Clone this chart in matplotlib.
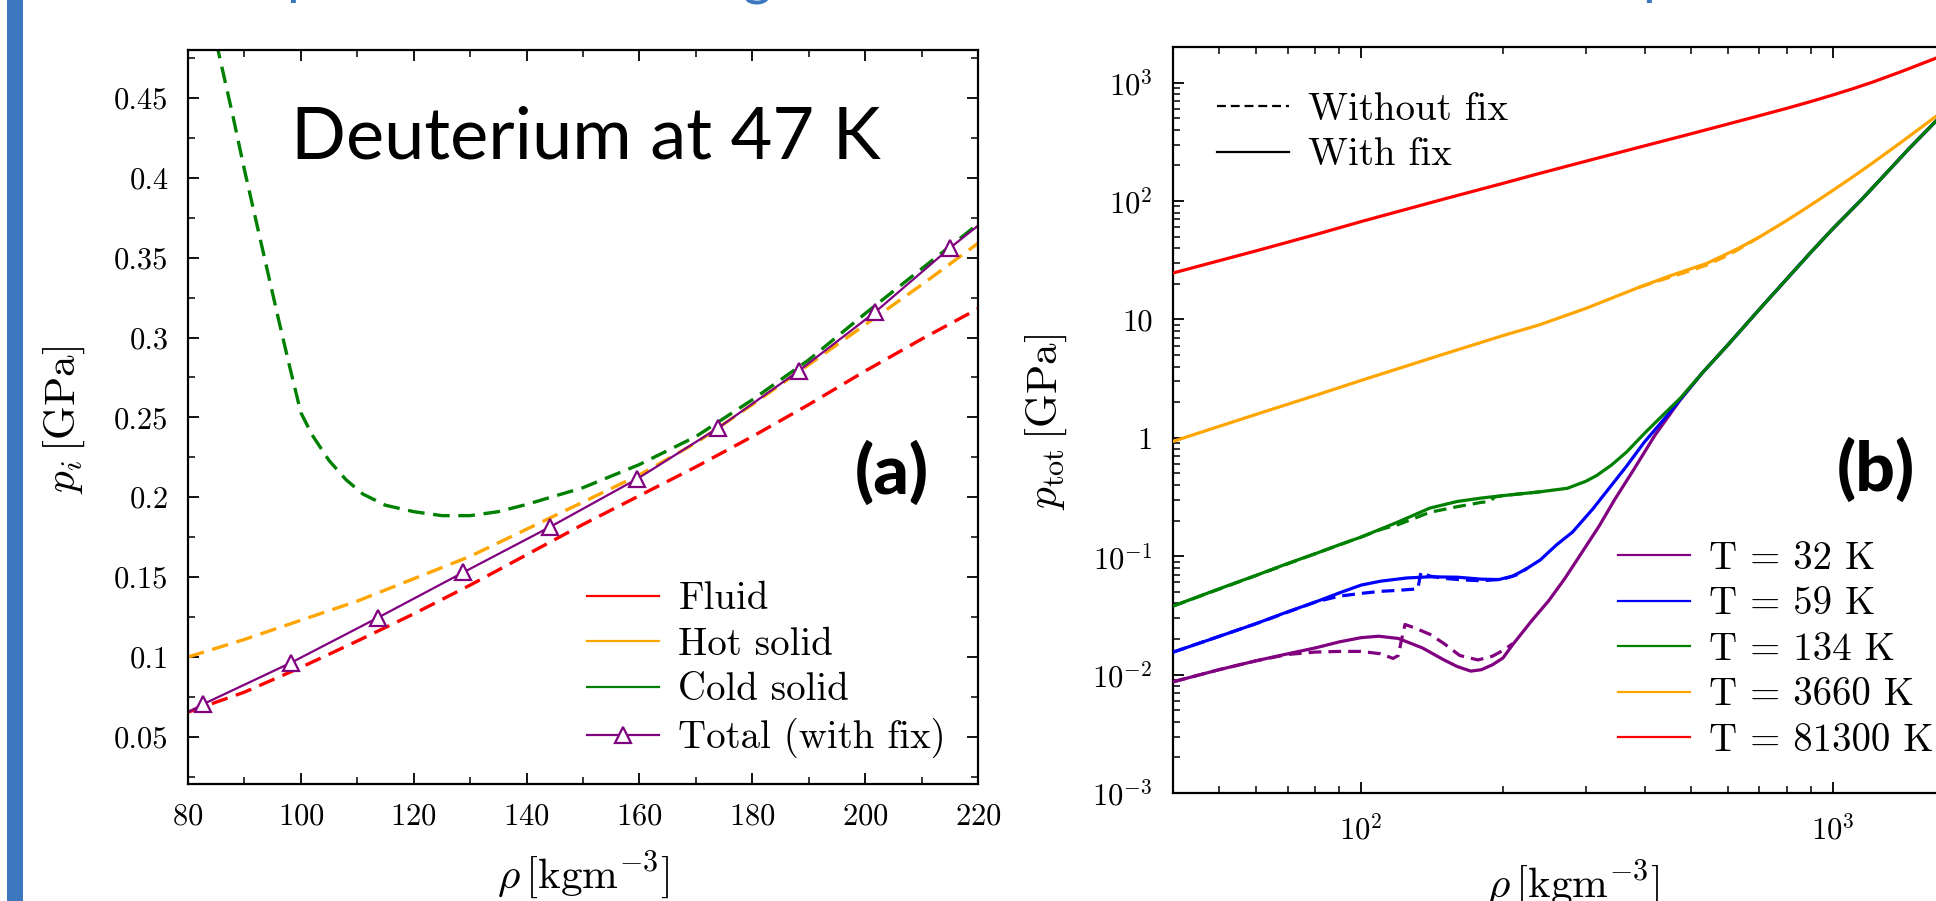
import numpy as np
import matplotlib
matplotlib.use("Agg")
import matplotlib.pyplot as plt
from matplotlib.ticker import MultipleLocator, FuncFormatter, LogLocator, NullFormatter
from matplotlib.lines import Line2D
from matplotlib.patches import Rectangle

# ---------------- Panel (a) data : Deuterium at 47 K ----------------
fluid_rho = [80, 90, 100, 110, 120, 130, 140, 150, 160, 170, 180, 190, 200, 210, 220]
fluid_p = [0.0655, 0.078, 0.0935, 0.110, 0.127, 0.145, 0.164, 0.183, 0.201, 0.219,
           0.238, 0.258, 0.279, 0.299, 0.318]

hot_rho = [80, 90, 100, 110, 120, 130, 140, 150, 160, 170, 180, 190, 200, 210, 220]
hot_p = [0.100, 0.111, 0.123, 0.135, 0.149, 0.163, 0.180, 0.197, 0.214, 0.234,
         0.258, 0.283, 0.308, 0.333, 0.359]

cold_rho = [85, 88, 90, 92, 94, 96, 98, 100, 102, 105, 108, 111, 115, 120, 125, 130,
            135, 140, 150, 160, 170, 180, 190, 200, 210, 220]
cold_p = [0.485, 0.438, 0.405, 0.374, 0.343, 0.312, 0.282, 0.253, 0.239, 0.223, 0.211,
          0.202, 0.195, 0.191, 0.1885, 0.1885, 0.191, 0.1955, 0.206, 0.2205, 0.238,
          0.261, 0.286, 0.315, 0.343, 0.371]

total_rho = [80, 82.7, 98.3, 113.7, 128.8, 144.2, 159.6, 174.0, 188.2, 201.8, 215.0, 220]
total_p = [0.0655, 0.0705, 0.0965, 0.1247, 0.1530, 0.1815, 0.2115, 0.2435, 0.2790,
           0.3160, 0.3560, 0.3700]

legend_a = ["Fluid", "Hot solid", "Cold solid", "Total (with fix)"]

# ---------------- Panel (b) data : total pressure ----------------
# common high-density branch shared by the three coldest isotherms
common_rho = [530, 600, 700, 800, 900, 1000, 1150, 1300, 1450, 1650, 2000]
common_p = [3.55, 6.1, 12.2, 22.0, 37.0, 58.0, 102.0, 172.0, 275.0, 465.0, 940.0]

t32_rho = [40, 50, 60, 70, 80, 90, 100, 109, 120, 135, 150, 160, 171, 180, 190, 200,
           210, 230, 250, 270, 290, 320, 345, 380, 420, 475]
t32_p = [0.0087, 0.0110, 0.0131, 0.0150, 0.0168, 0.0189, 0.0205, 0.0211, 0.0202,
         0.0168, 0.0133, 0.0117, 0.0107, 0.0110, 0.0121, 0.0138, 0.0180, 0.0284,
         0.042, 0.064, 0.0987, 0.18, 0.30, 0.55, 1.05, 2.08]
t32_dash_rho = [40, 50, 60, 70, 80, 90, 100, 110, 117, 120, 122, 124, 130, 140, 150,
                162, 177, 190, 200, 210]
t32_dash_p = [0.0087, 0.0110, 0.0131, 0.0148, 0.0155, 0.0157, 0.0157, 0.0150, 0.0137,
              0.0145, 0.0200, 0.0265, 0.0248, 0.0219, 0.0183, 0.0145, 0.0133, 0.0143,
              0.0160, 0.0183]

t59_rho = [40, 50, 60, 70, 80, 90, 100, 110, 125, 140, 160, 180, 196, 210, 224, 240,
           260, 281, 310, 335, 365, 399, 440, 475]
t59_p = [0.0155, 0.0210, 0.0270, 0.0340, 0.0410, 0.0490, 0.0570, 0.0615, 0.0655,
         0.0670, 0.0665, 0.0640, 0.0635, 0.0680, 0.0780, 0.093, 0.125, 0.160, 0.25,
         0.37, 0.57, 0.92, 1.45, 2.10]
t59_dash_rho = [40, 60, 80, 90, 100, 110, 120, 132, 134, 140, 150, 165, 180, 200, 215, 225]
t59_dash_p = [0.0155, 0.0270, 0.0410, 0.0460, 0.0485, 0.0505, 0.0515, 0.0530, 0.0730,
              0.0680, 0.0650, 0.0630, 0.0620, 0.0640, 0.0700, 0.0790]

t134_rho = [40, 50, 60, 70, 80, 90, 100, 120, 140, 160, 180, 200, 240, 274, 300, 316,
            340, 366, 400, 440, 475]
t134_p = [0.038, 0.053, 0.069, 0.087, 0.105, 0.125, 0.145, 0.195, 0.255, 0.290, 0.310,
          0.325, 0.350, 0.375, 0.430, 0.480, 0.590, 0.760, 1.10, 1.60, 2.15]
t134_dash_rho = [40, 80, 100, 110, 120, 140, 160, 180, 188, 192, 200, 240]
t134_dash_p = [0.038, 0.105, 0.145, 0.168, 0.185, 0.235, 0.262, 0.285, 0.290, 0.316,
               0.325, 0.350]

t3660_rho = [40, 60, 80, 100, 150, 200, 239, 300, 389, 450, 541, 631, 700, 794, 853,
             920, 1000, 1100, 1216, 1400, 1652, 2000]
t3660_p = [0.935, 1.58, 2.28, 3.05, 5.1, 7.3, 9.0, 12.4, 18.7, 23.2, 29.7, 39.8, 49.7,
           67.3, 80.7, 98.2, 122.5, 158.4, 209.7, 315.0, 514.0, 912.0]
t3660_dash_rho = [389, 450, 500, 541, 600, 631, 700]
t3660_dash_p = [18.7, 22.6, 25.8, 28.8, 34.8, 39.0, 49.7]

t81300_rho = [40, 60, 80, 100, 150, 200, 239, 300, 400, 500, 600, 700, 800, 900, 1000,
              1100, 1216, 1400, 1652, 2000]
t81300_p = [24.7, 38.0, 52.0, 67.0, 104.0, 141.0, 171.0, 217.0, 293.0, 369.0, 447.0,
            526.0, 607.0, 693.0, 785.0, 884.0, 1010.0, 1241.0, 1602.0, 2195.0]

legend_b = ["T = 32 K", "T = 59 K", "T = 134 K", "T = 3660 K", "T = 81300 K"]
colors_b = ["purple", "blue", "green", "orange", "red"]

# ---------------- style ----------------
plt.rcParams.update({
    "font.family": "cmr10",
    "mathtext.fontset": "cm",
    "axes.unicode_minus": False,
    "axes.formatter.use_mathtext": True,
})

W, H = 1936, 901
fig = plt.figure(figsize=(W / 100, H / 100), dpi=100)
fig.patch.set_facecolor("white")

BLUE = "#3D78BE"
fig.patches.append(Rectangle((7 / W, 0), 16 / W, 1, transform=fig.transFigure,
                             facecolor=BLUE, edgecolor="none"))

# fragments of the slide title cut off at the top edge
for ch, xc, up in [("p", 302, 7.0), ("(", 679, 9.5), ("g", 757, 6.5), (")", 879, 9.5), ("p", 1658, 7.0)]:
    fig.text(xc / W, 1 + up / H, ch, color=BLUE, fontsize=40, family="Lato",
             ha="center", va="baseline")

TICK = 22
LEG = 28
LSP = 0.25


def style_axes(ax):
    ax.tick_params(which="both", direction="in", top=True, right=True,
                   labelsize=TICK, pad=14)
    ax.tick_params(which="major", length=8, width=1.3)
    ax.tick_params(which="minor", length=5, width=1.1)
    for s in ax.spines.values():
        s.set_linewidth(1.6)


# ---------------- panel (a) ----------------
axA = fig.add_axes([188 / W, 1 - 784 / H, 790 / W, 734 / H])
DASH = (5, 2.6)
axA.plot(fluid_rho, fluid_p, color="red", lw=2.4, dashes=DASH)
axA.plot(hot_rho, hot_p, color="orange", lw=2.4, dashes=DASH)
axA.plot(cold_rho, cold_p, color="green", lw=2.4, dashes=DASH)
axA.plot(total_rho, total_p, color="purple", lw=1.6, marker="^", ms=11, mfc="white",
         mew=1.6, markevery=list(range(1, len(total_rho) - 1)))
axA.set_xlim(80, 220)
axA.set_ylim(0.0205, 0.48)
axA.xaxis.set_major_locator(MultipleLocator(20))
axA.xaxis.set_minor_locator(MultipleLocator(10))
axA.yaxis.set_major_locator(MultipleLocator(0.05))
axA.yaxis.set_minor_locator(MultipleLocator(0.025))
axA.yaxis.set_major_formatter(FuncFormatter(lambda v, p: "%g" % round(v, 3)))
style_axes(axA)

hA = [Line2D([], [], color="red", lw=1.6),
      Line2D([], [], color="orange", lw=1.6),
      Line2D([], [], color="green", lw=1.6),
      Line2D([], [], color="purple", lw=1.6, marker="^", ms=11, mfc="white", mew=1.6)]
axA.legend(hA, legend_a, loc="upper left", bbox_to_anchor=(0.505, 0.276), frameon=False,
           fontsize=LEG, handlelength=1.85, handletextpad=0.5, labelspacing=LSP,
           borderpad=0, borderaxespad=0)

fig.text(583 / W, 1 - 875 / H, r"$\rho\,[\mathrm{kgm}^{-3}]$", fontsize=31,
         ha="center", va="center")
fig.text(64 / W, 1 - 420 / H, r"$p_i\,[\mathrm{GPa}]$", fontsize=31, rotation=90,
         ha="center", va="center")
fig.text(586 / W, 1 - 158.7 / H, "Deuterium at 47 K", fontsize=52, family="Lato",
         ha="center", va="baseline")
fig.text(892 / W, 1 - 473 / H, "(a)", fontsize=50, family="Lato", weight="black",
         ha="center", va="center")

# ---------------- panel (b) ----------------
axB = fig.add_axes([1173.3 / W, 1 - 793 / H, 801.2 / W, 746 / H])
LW = 2.3
curves_b = [
    (t32_rho, t32_p, t32_dash_rho, t32_dash_p),
    (t59_rho, t59_p, t59_dash_rho, t59_dash_p),
    (t134_rho, t134_p, t134_dash_rho, t134_dash_p),
]
for (r, p, rd, pd), c in zip(curves_b, colors_b[:3]):
    axB.plot(rd, pd, color=c, lw=LW, dashes=(4, 2.2), zorder=2)
    axB.plot(list(r) + common_rho, list(p) + common_p, color=c, lw=LW, zorder=3)
axB.plot(t3660_dash_rho, t3660_dash_p, color="orange", lw=LW, dashes=(4, 2.2), zorder=2)
axB.plot(t3660_rho, t3660_p, color="orange", lw=LW, zorder=3)
axB.plot(t81300_rho, t81300_p, color="red", lw=LW, zorder=3)

axB.set_xscale("log")
axB.set_yscale("log")
axB.set_xlim(40, 2000)
axB.set_ylim(1e-3, 2e3)
axB.xaxis.set_major_locator(LogLocator(base=10))
axB.xaxis.set_minor_locator(LogLocator(base=10, subs=np.arange(2, 10)))
axB.xaxis.set_minor_formatter(NullFormatter())
axB.xaxis.set_major_formatter(FuncFormatter(lambda v, p: r"$10^{%d}$" % round(np.log10(v))))
axB.yaxis.set_major_locator(LogLocator(base=10, numticks=20))
axB.yaxis.set_minor_locator(LogLocator(base=10, subs=np.arange(2, 10), numticks=20))
axB.yaxis.set_minor_formatter(NullFormatter())


def yfmt(v, p):
    e = int(round(np.log10(v)))
    if e == 0:
        return "1"
    if e == 1:
        return "10"
    return r"$10^{%d}$" % e


axB.yaxis.set_major_formatter(FuncFormatter(yfmt))
style_axes(axB)
axB.tick_params(which="both", pad=15)

hB1 = [Line2D([], [], color="black", lw=1.6, dashes=(4, 2.2)),
       Line2D([], [], color="black", lw=1.6)]
leg1 = axB.legend(hB1, ["Without fix", "With fix"], loc="upper left",
                  bbox_to_anchor=(0.0545, 0.940), frameon=False, fontsize=LEG,
                  handlelength=1.85, handletextpad=0.5, labelspacing=LSP,
                  borderpad=0, borderaxespad=0)
axB.add_artist(leg1)
hB2 = [Line2D([], [], color=c, lw=1.6) for c in colors_b]
axB.legend(hB2, legend_b, loc="upper left", bbox_to_anchor=(0.555, 0.338), frameon=False,
           fontsize=LEG, handlelength=1.85, handletextpad=0.5, labelspacing=LSP,
           borderpad=0, borderaxespad=0)

fig.text(1573 / W, 1 - 884 / H, r"$\rho\,[\mathrm{kgm}^{-3}]$", fontsize=31,
         ha="center", va="center")
fig.text(1046 / W, 1 - 422 / H, r"$p_{\mathrm{tot}}\,[\mathrm{GPa}]$", fontsize=31,
         rotation=90, ha="center", va="center")
fig.text(1876 / W, 1 - 470 / H, "(b)", fontsize=50, family="Lato", weight="black",
         ha="center", va="center")

fig.savefig("out.png", dpi=100, facecolor="white")
